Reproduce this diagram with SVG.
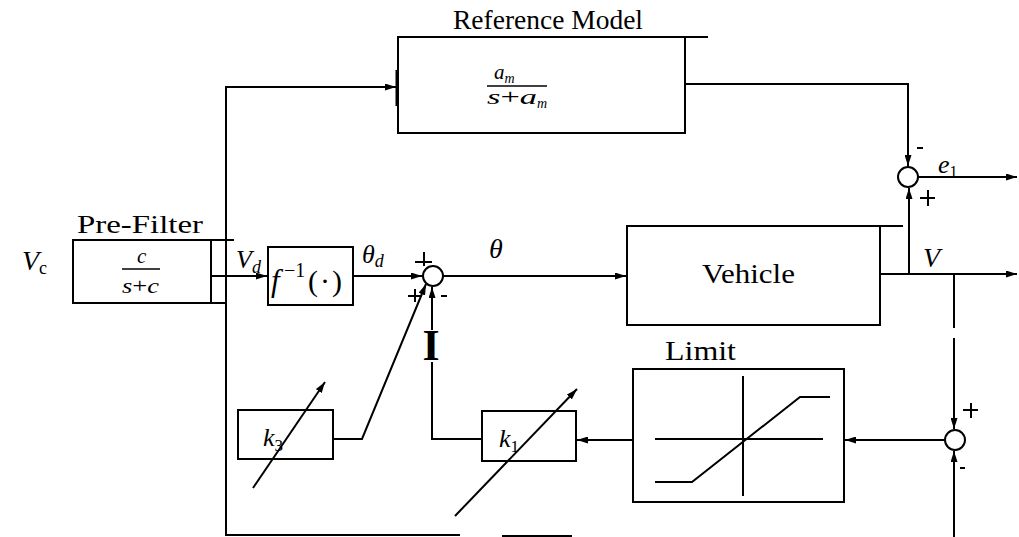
<svg xmlns="http://www.w3.org/2000/svg" width="1019" height="537" viewBox="0 0 1019 537">
<defs>
<marker id="ah" markerWidth="11" markerHeight="7" refX="11" refY="3.5" orient="auto" markerUnits="userSpaceOnUse">
<path d="M0,0 L11,3.5 L0,7 z" fill="#000"/>
</marker>
<style>
.ln{fill:none;stroke:#000;stroke-width:2}
.bx{fill:#fff;stroke:#000;stroke-width:2}
.sm{fill:#fff;stroke:#000;stroke-width:2}
.lb{font-family:"Liberation Serif",serif;fill:#000}
.mt{font-family:"Liberation Serif",serif;font-style:italic;fill:#000}
</style>
</defs>
<rect width="1019" height="537" fill="#fff"/>
<g id="connectors">
<path class="ln" d="M460,535 L226,535 L226,87 L396,87" marker-end="url(#ah)"/>
<path class="ln" d="M502,536 L572,536" stroke-width="1.2"/>
<path class="ln" d="M211,276 L267,276" marker-end="url(#ah)"/>
<path class="ln" d="M353,276 L422,276" marker-end="url(#ah)"/>
<path class="ln" d="M443,276 L626,276" marker-end="url(#ah)"/>
<path class="ln" d="M685,84 L908,84 L908,166" marker-end="url(#ah)"/>
<path class="ln" d="M918,177 L1017,177" marker-end="url(#ah)" stroke-width="1.5"/>
<path class="ln" d="M880,274 L1017,274" marker-end="url(#ah)"/>
<path class="ln" d="M909,274 L909,188" marker-end="url(#ah)"/>
<path class="ln" d="M954,274 L954,328"/>
<path class="ln" d="M954,338 L954,429" marker-end="url(#ah)" stroke-width="1.2"/>
<path class="ln" d="M954,537 L954,451" marker-end="url(#ah)"/>
<path class="ln" d="M944,440 L845,440" marker-end="url(#ah)" stroke-width="1.5"/>
<path class="ln" d="M633,440 L577,440" marker-end="url(#ah)" stroke-width="1.5"/>
<path class="ln" d="M482,439 L432,439 L432,362" stroke-width="1.5"/>
<path class="ln" d="M432,330 L432,287" marker-end="url(#ah)"/>
<path class="ln" d="M333,439 L362,439 L426,284" marker-end="url(#ah)" stroke-width="1.5"/>
<path class="ln" d="M211,240 L234,240 M211,303 L226,303"/>
<path class="ln" d="M685,37 L708,37"/>
<path class="ln" d="M880,226 L903,226"/>
</g>
<g id="prefilter">
<rect class="bx" x="73" y="240" width="138" height="63"/>
<text class="lb" x="77" y="233" font-size="26" textLength="126" lengthAdjust="spacingAndGlyphs">Pre-Filter</text>
<text class="mt" x="137" y="263" font-size="21">c</text>
<line x1="122" y1="269" x2="160" y2="269" stroke="#000" stroke-width="1.3"/>
<text class="mt" x="122" y="293" font-size="21" textLength="37" lengthAdjust="spacingAndGlyphs">s<tspan font-style="normal">+</tspan>c</text>
</g>
<g id="vc-label">
<text class="mt" x="22" y="270" font-size="28">V<tspan font-size="18" font-style="normal" dy="4">c</tspan></text>
</g>
<g id="reference-model">
<rect class="bx" x="398" y="37" width="287" height="96"/>
<line x1="397" y1="70" x2="397" y2="106" stroke="#000" stroke-width="3"/>
<text class="lb" x="453" y="29" font-size="27" textLength="190" lengthAdjust="spacingAndGlyphs">Reference Model</text>
<text class="mt" x="494" y="79" font-size="21">a<tspan font-size="14" dy="4">m</tspan></text>
<line x1="487" y1="86" x2="547" y2="86" stroke="#000" stroke-width="1.3"/>
<text class="mt" x="487" y="104" font-size="21" textLength="50" lengthAdjust="spacingAndGlyphs">s<tspan font-style="normal">+</tspan>a</text>
<text class="mt" x="537" y="108" font-size="14">m</text>
</g>
<g id="finv">
<rect class="bx" x="268" y="247" width="85" height="58"/>
<text class="mt" x="271" y="291" font-size="31">f</text>
<text class="lb" x="284" y="277" font-size="20">−1</text>
<text class="lb" x="308" y="291" font-size="30" letter-spacing="2">(·)</text>
</g>
<g id="labels-signals">
<text class="mt" x="236" y="268" font-size="26">V<tspan font-size="18" dy="5">d</tspan></text>
<text class="mt" x="362" y="263" font-size="26">θ<tspan font-size="18" dy="4">d</tspan></text>
<text class="mt" x="489" y="258" font-size="28">θ</text>
<text class="mt" x="923" y="267" font-size="28">V</text>
<text class="mt" x="938" y="173" font-size="26">e<tspan font-style="normal" font-size="16" dy="4">1</tspan></text>
</g>
<g id="sum-main">
<circle class="sm" cx="433" cy="276" r="10"/>
<path class="ln" d="M415,262 L432,262 M424,252 L424,266" stroke-width="1.5"/>
<path class="ln" d="M408,296 L421,296 M415,289 L415,302" stroke-width="1.5"/>
<path class="ln" d="M441,296 L447,296" stroke-width="1.5"/>
<text class="lb" x="431" y="360" font-size="44" font-weight="bold" text-anchor="middle">I</text>
</g>
<g id="sum-error">
<circle class="sm" cx="908" cy="177" r="10"/>
<path class="ln" d="M917,148 L923,148" stroke-width="1.5"/>
<path class="ln" d="M920,198 L935,198 M928,190 L928,206" stroke-width="1.5"/>
</g>
<g id="sum-limit">
<circle class="sm" cx="955" cy="440" r="10"/>
<path class="ln" d="M963,410 L978,410 M971,403 L971,418" stroke-width="1.5"/>
<path class="ln" d="M960,468 L965,468" stroke-width="1.5"/>
</g>
<g id="vehicle">
<rect class="bx" x="627" y="226" width="253" height="99"/>
<text class="lb" x="702" y="283" font-size="28" textLength="93" lengthAdjust="spacingAndGlyphs">Vehicle</text>
</g>
<g id="limit">
<rect class="bx" x="633" y="369" width="211" height="133"/>
<text class="lb" x="665" y="360" font-size="28" textLength="71" lengthAdjust="spacingAndGlyphs">Limit</text>
<path class="ln" d="M655,439 L823,439 M743,376 L743,496" stroke-width="1.5"/>
<path class="ln" d="M655,482 L692,482 L800,397 L830,397" stroke-width="1.5"/>
</g>
<g id="k1">
<rect class="bx" x="482" y="411" width="94" height="50" stroke-width="1.5"/>
<text class="mt" x="499" y="447" font-size="26">k<tspan font-style="normal" font-size="17" dy="5">1</tspan></text>
<path class="ln" d="M455,516 L577,389" marker-end="url(#ah)" stroke-width="1.5"/>
</g>
<g id="k3">
<rect class="bx" x="238" y="410" width="95" height="49" stroke-width="1.5"/>
<text class="mt" x="263" y="446" font-size="26">k<tspan font-style="normal" font-size="17" dy="5">3</tspan></text>
<path class="ln" d="M253,488 L325,382" marker-end="url(#ah)" stroke-width="1.5"/>
</g>
</svg>
